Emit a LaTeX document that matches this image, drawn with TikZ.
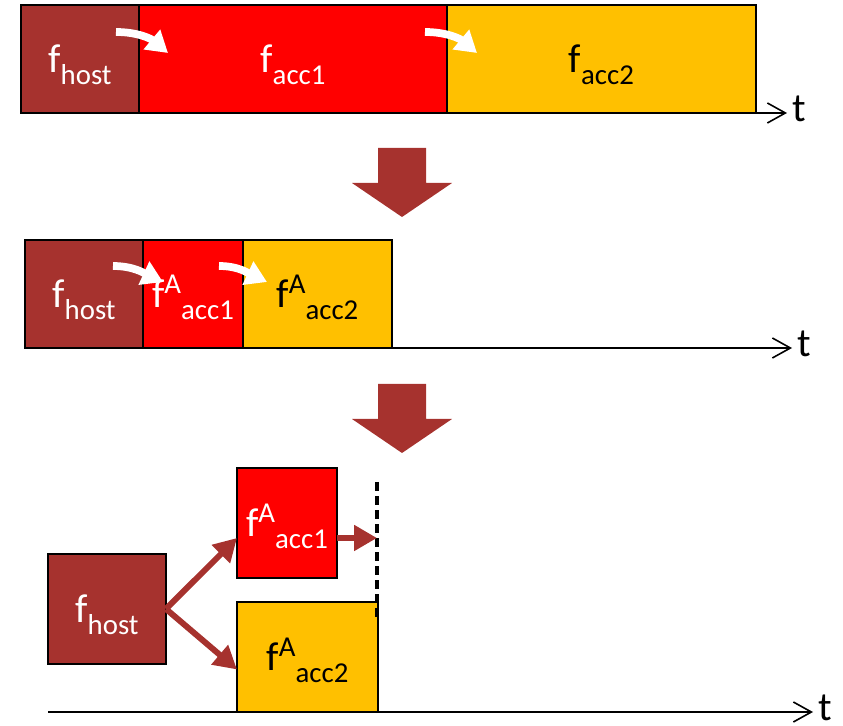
\documentclass[tikz,border=0pt]{standalone}
\usepackage{fontspec}
\setmainfont{Carlito}
\usepackage{tikz}
\usetikzlibrary{arrows.meta,positioning}
\definecolor{hostred}{HTML}{A6322E}
\definecolor{accred}{HTML}{FF0000}
\definecolor{accamber}{HTML}{FFC000}

\newcommand{\subsz}{\fontsize{16.4pt}{18pt}\selectfont}
% f, then superscript #2, then subscript #1
\newcommand{\fl}[2]{\rule{0pt}{22pt}f\raisebox{7.9pt}{\subsz #2}\raisebox{-6.8pt}{\subsz #1}}

\begin{document}
\begin{tikzpicture}[
  x=0.02cm, y=-0.02cm,
  font=\fontsize{23pt}{26pt}\selectfont,
  fbox/.style={draw=black, line width=1pt, fill=#1, inner sep=0pt, outer sep=0pt},
  axis/.style={line width=0.9pt, -{Straight Barb[length=3.6mm, width=4mm, line width=0.9pt]}},
  tlab/.style={anchor=base west, inner sep=0pt, xshift=1mm, yshift=-1.7mm},
  hop/.style={white, line width=4.4pt, -{Triangle[length=12pt, width=14pt]}},
  launch/.style={hostred, line width=3.4pt, -{Triangle[length=13pt, width=14pt]}},
]
\useasboundingbox (0,0) rectangle (843,726);

% sequential run
\node[fbox=hostred, text=white, minimum width=2.36cm, minimum height=2.16cm, anchor=north west] (h1) at (21,5) {\fl{host}{}};
\node[fbox=accred, text=white, minimum width=6.16cm, minimum height=2.16cm, right=0pt of h1] (a1) {\fl{acc1}{}};
\node[fbox=accamber, minimum width=6.18cm, minimum height=2.16cm, right=0pt of a1] (b1) {\fl{acc2}{}};
\coordinate (t1) at (787,113);
\draw[axis] (h1.south west) -- (t1) node[tlab] (t1lab) {t};
\coordinate (p1) at (116,32); \coordinate (q1) at (168,53);
\coordinate (p2) at (425,32); \coordinate (q2) at (477,53);
\draw[hop] (p1) to[out=0, in=140] (q1);
\draw[hop] (p2) to[out=0, in=140] (q2);

% block arrows between the rows
\foreach \y in {148,384}
  \fill[hostred] (378,\y) -- (426,\y) -- (426,\y+35) -- (452,\y+35) -- (402,\y+69)
    -- (352,\y+35) -- (378,\y+35) -- cycle;

% accelerated run
\node[fbox=hostred, text=white, minimum width=2.36cm, minimum height=2.16cm, anchor=north west] (h2) at (25,240) {\fl{host}{}};
\node[fbox=accred, text=white, minimum width=2cm, minimum height=2.16cm, right=0pt of h2] (a2) {\fl{acc1}{A}};
\node[fbox=accamber, minimum width=2.98cm, minimum height=2.16cm, right=0pt of a2] (b2) {\fl{acc2}{A}};
\coordinate (t2) at (792,348);
\draw[axis] (h2.south west) -- (t2) node[tlab] (t2lab) {t};
\coordinate (p3) at (113,266); \coordinate (q3) at (163,282);
\coordinate (p4) at (219,266); \coordinate (q4) at (267,282);
\draw[hop] (p3) to[out=0, in=155] (q3);
\draw[hop] (p4) to[out=0, in=155] (q4);

% parallel run
\node[fbox=hostred, text=white, minimum width=2.36cm, minimum height=2.2cm, anchor=north west] (h3) at (48,554) {\fl{host}{}};
\node[fbox=accred, text=white, minimum width=2cm, minimum height=2.2cm, anchor=north west] (a3) at (237,468) {\fl{acc1}{A}};
\node[fbox=accamber, minimum width=2.82cm, minimum height=2.2cm, anchor=north west] (b3) at (237,602) {\fl{acc2}{A}};
\coordinate (t3) at (813,712);
\draw[axis] (h3.west |- b3.south) -- (t3) node[tlab] (t3lab) {t};
\coordinate (d0) at (377,482); \coordinate (d1) at (377,620);
\draw[line width=1.8pt, dash pattern=on 5pt off 3pt] (d0) -- (d1);
\draw[launch] (h3.east) -- ([yshift=-0.3cm]a3.west);
\draw[launch] (h3.east) -- ([yshift=-0.25cm]b3.west);
\draw[launch] ([yshift=-0.3cm]a3.east) -- ([yshift=-0.3cm]a3.east -| d0);
\end{tikzpicture}
\end{document}
